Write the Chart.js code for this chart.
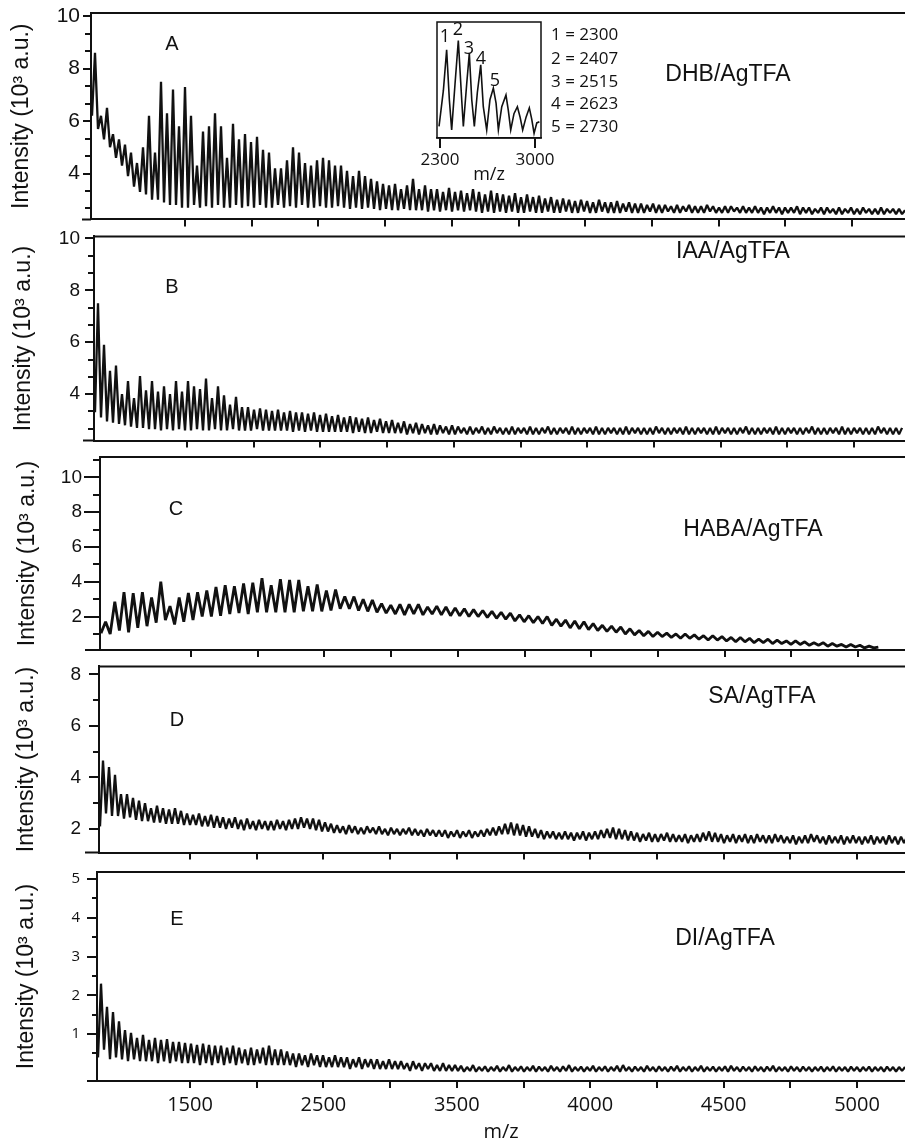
<!DOCTYPE html>
<html>
<head>
<meta charset="utf-8">
<script src="https://cdn.jsdelivr.net/npm/chart.js@4.4.1/dist/chart.umd.min.js"></script>
<style>
  body { margin: 0; background: #fff; }
  #page { position: relative; width: 905px; height: 1142px; overflow: hidden; background: #fff; }
  #page canvas { position: absolute; }
  .lbl { position: absolute; transform: translate(-50%, -50%); font-family: "Liberation Sans", Arial, sans-serif; color: #111; white-space: nowrap; line-height: 1; }
  .leg { position: absolute; transform: translate(0, -50%); font-family: "Open Sans", sans-serif; font-size: 17px; color: #111; white-space: nowrap; line-height: 1; }
  .pk { position: absolute; transform: translate(-50%, -50%); font-family: "Open Sans", sans-serif; font-size: 18px; color: #111; line-height: 1; }
</style>
</head>
<body>
<div id="page"></div>
<script>
// x axis: one unit = one labelled tick step (labels as printed on the figure)
const xTickLabels = ['1500', '2500', '3500', '4000', '4500', '5000'];
const xTickSpots = [0, 0.5, 1, 1.5, 2, 2.5, 3, 3.5, 4, 4.5, 5];
const yTitle = 'Intensity (10\u00B3 a.u.)';

// spectra, 10^3 a.u., alternating valley / peak along the trace
const intensityA = [
  6.2, 8.6, 5.7, 6.2, 5.3, 6.5, 5.0, 5.5, 4.6, 5.3, 4.3, 5.1, 3.9, 4.8, 3.5, 4.4, 3.3, 5.0, 3.2, 6.2,
  3.0, 4.8, 3.0, 7.5, 2.9, 6.3, 2.8, 7.2, 2.8, 5.8, 2.7, 7.3, 2.7, 6.2, 2.8, 4.3, 2.7, 5.6, 2.75, 5.8,
  2.7, 6.3, 2.8, 5.8, 2.7, 4.6, 2.7, 5.9, 2.8, 5.3, 2.7, 5.5, 2.75, 5.2, 2.7, 5.4, 2.8, 4.9, 2.7, 4.8,
  2.7, 4.2, 2.8, 4.2, 2.7, 4.5, 2.75, 5.0, 2.7, 4.8, 2.8, 4.4, 2.7, 4.3, 2.7, 4.5, 2.75, 4.6, 2.7, 4.5,
  2.7, 4.3, 2.75, 4.3, 2.7, 4.1, 2.65, 3.9, 2.7, 4.1, 2.65, 3.9, 2.7, 3.8, 2.65, 3.7, 2.6, 3.6, 2.65, 3.55,
  2.6, 3.6, 2.6, 3.4, 2.65, 3.55, 2.6, 3.8, 2.6, 3.4, 2.6, 3.55, 2.55, 3.4, 2.6, 3.4, 2.55, 3.3, 2.6, 3.45,
  2.55, 3.3, 2.6, 3.35, 2.55, 3.25, 2.6, 3.4, 2.55, 3.3, 2.5, 3.2, 2.55, 3.35, 2.5, 3.25, 2.55, 3.2, 2.5, 3.15,
  2.55, 3.25, 2.5, 3.1, 2.5, 3.2, 2.55, 3.1, 2.5, 3.15, 2.5, 3.05, 2.55, 3.1, 2.5, 3.0, 2.5, 3.05, 2.55, 3.0,
  2.5, 2.95, 2.5, 3.0, 2.55, 2.95, 2.5, 2.9, 2.5, 3.0, 2.55, 2.9, 2.5, 2.9, 2.5, 2.95, 2.5, 2.85, 2.55, 2.9,
  2.5, 2.85, 2.5, 2.85, 2.5, 2.8, 2.55, 2.85, 2.5, 2.8, 2.5, 2.8, 2.55, 2.75, 2.5, 2.8, 2.5, 2.75, 2.55, 2.8,
  2.5, 2.75, 2.5, 2.75, 2.5, 2.8, 2.55, 2.75, 2.5, 2.7, 2.5, 2.75, 2.5, 2.75, 2.55, 2.7, 2.5, 2.75, 2.5, 2.7,
  2.5, 2.75, 2.5, 2.7, 2.45, 2.7, 2.5, 2.75, 2.5, 2.7, 2.45, 2.7, 2.5, 2.7, 2.5, 2.75, 2.45, 2.7, 2.5, 2.7,
  2.45, 2.65, 2.5, 2.7, 2.45, 2.7, 2.5, 2.65, 2.45, 2.7, 2.45, 2.65, 2.5, 2.7, 2.45, 2.65, 2.45, 2.7, 2.5, 2.65,
  2.45, 2.65, 2.45, 2.7, 2.45, 2.65, 2.5, 2.65, 2.45, 2.65, 2.45, 2.6
];
const intensityB = [
  3.3, 7.5, 3.1, 5.9, 2.95, 4.9, 2.9, 5.1, 2.85, 4.0, 2.8, 4.5, 2.75, 3.85, 2.7, 4.7, 2.7, 4.15, 2.65, 4.5,
  2.65, 4.1, 2.6, 4.3, 2.65, 4.0, 2.6, 4.5, 2.65, 4.1, 2.6, 4.5, 2.6, 4.3, 2.65, 4.2, 2.6, 4.6, 2.6, 3.85,
  2.65, 4.3, 2.6, 3.95, 2.6, 3.6, 2.65, 3.9, 2.6, 3.5, 2.6, 3.5, 2.6, 3.4, 2.65, 3.45, 2.6, 3.4, 2.6, 3.35,
  2.6, 3.4, 2.6, 3.3, 2.6, 3.35, 2.55, 3.3, 2.6, 3.3, 2.55, 3.25, 2.6, 3.3, 2.55, 3.2, 2.55, 3.25, 2.55, 3.15,
  2.55, 3.2, 2.55, 3.1, 2.55, 3.15, 2.5, 3.1, 2.55, 3.05, 2.5, 3.1, 2.5, 3.0, 2.55, 3.05, 2.5, 2.95, 2.5, 3.0,
  2.5, 2.9, 2.5, 2.95, 2.45, 2.85, 2.5, 2.9, 2.45, 2.85, 2.5, 2.8, 2.45, 2.85, 2.45, 2.8, 2.5, 2.75, 2.45, 2.8,
  2.45, 2.75, 2.5, 2.7, 2.45, 2.75, 2.45, 2.7, 2.5, 2.75, 2.45, 2.7, 2.45, 2.75, 2.5, 2.7, 2.45, 2.7, 2.45, 2.75,
  2.45, 2.7, 2.5, 2.7, 2.45, 2.75, 2.45, 2.7, 2.45, 2.7, 2.5, 2.75, 2.45, 2.7, 2.45, 2.7, 2.5, 2.7, 2.45, 2.75,
  2.45, 2.7, 2.45, 2.7, 2.5, 2.7, 2.45, 2.75, 2.45, 2.7, 2.45, 2.7, 2.5, 2.7, 2.45, 2.7, 2.45, 2.75, 2.45, 2.7,
  2.5, 2.7, 2.45, 2.7, 2.45, 2.7, 2.45, 2.75, 2.5, 2.7, 2.45, 2.7, 2.45, 2.7, 2.5, 2.7, 2.45, 2.75, 2.45, 2.7,
  2.45, 2.7, 2.5, 2.7, 2.45, 2.7, 2.45, 2.75, 2.45, 2.7, 2.5, 2.7, 2.45, 2.7, 2.45, 2.7, 2.5, 2.75, 2.45, 2.7,
  2.45, 2.7, 2.45, 2.7, 2.5, 2.7, 2.45, 2.75, 2.45, 2.7, 2.45, 2.7, 2.5, 2.7, 2.45, 2.7, 2.45, 2.7, 2.5, 2.75,
  2.45, 2.7, 2.45, 2.7, 2.45, 2.7, 2.5, 2.7, 2.45, 2.75, 2.45, 2.7, 2.45, 2.7, 2.5, 2.7, 2.45, 2.7, 2.45, 2.7,
  2.45, 2.75, 2.5, 2.7, 2.45, 2.7, 2.45, 2.7, 2.45, 2.7
];
const intensityC = [
  1.05, 1.7, 1.0, 2.85, 1.2, 3.4, 1.1, 3.35, 1.35, 3.4, 1.45, 3.1, 1.65, 4.0, 1.8, 2.6, 1.55, 3.1, 1.7, 3.35,
  1.8, 3.4, 2.0, 3.5, 2.0, 3.7, 2.05, 3.8, 2.15, 3.75, 2.2, 3.9, 2.15, 3.95, 2.25, 4.2, 2.25, 3.8, 2.25, 4.15,
  2.25, 4.1, 2.25, 4.1, 2.3, 3.75, 2.3, 3.85, 2.3, 3.5, 2.35, 3.55, 2.45, 3.15, 2.45, 3.15, 2.35, 3.0, 2.3, 2.95,
  2.25, 2.75, 2.2, 2.65, 2.15, 2.7, 2.1, 2.7, 2.15, 2.7, 2.1, 2.55, 2.15, 2.6, 2.1, 2.55, 2.05, 2.5, 2.05, 2.45,
  2.0, 2.4, 2.0, 2.35, 1.95, 2.3, 1.9, 2.25, 1.85, 2.2, 1.75, 2.1, 1.7, 2.05, 1.65, 2.0, 1.6, 2.0, 1.5, 1.85,
  1.45, 1.8, 1.35, 1.75, 1.3, 1.7, 1.25, 1.6, 1.2, 1.5, 1.15, 1.45, 1.1, 1.4, 1.0, 1.3, 0.95, 1.2, 0.9, 1.15,
  0.85, 1.1, 0.85, 1.05, 0.8, 1.0, 0.75, 1.0, 0.75, 0.95, 0.7, 0.9, 0.65, 0.9, 0.65, 0.85, 0.6, 0.8, 0.55, 0.8,
  0.55, 0.75, 0.5, 0.7, 0.5, 0.7, 0.45, 0.65, 0.45, 0.6, 0.4, 0.6, 0.4, 0.55, 0.35, 0.5, 0.35, 0.5, 0.3, 0.45,
  0.3, 0.4, 0.25, 0.4, 0.25, 0.35, 0.2, 0.3, 0.2, 0.25
];
const intensityD = [
  2.1, 4.65, 2.6, 4.4, 2.5, 4.1, 2.5, 3.35, 2.4, 3.35, 2.45, 3.2, 2.35, 3.1, 2.3, 3.0, 2.3, 2.8, 2.25, 2.9,
  2.25, 2.8, 2.2, 2.75, 2.2, 2.8, 2.2, 2.7, 2.15, 2.6, 2.15, 2.55, 2.15, 2.6, 2.1, 2.5, 2.1, 2.55, 2.05, 2.5,
  2.05, 2.45, 2.0, 2.4, 2.05, 2.45, 2.0, 2.35, 1.95, 2.4, 2.0, 2.3, 1.95, 2.35, 2.0, 2.3, 1.95, 2.3, 1.95, 2.35,
  2.0, 2.3, 1.95, 2.35, 2.0, 2.4, 2.0, 2.45, 2.05, 2.4, 2.0, 2.4, 1.95, 2.35, 1.9, 2.25, 1.9, 2.2, 1.85, 2.15,
  1.85, 2.1, 1.8, 2.15, 1.85, 2.1, 1.8, 2.05, 1.8, 2.1, 1.85, 2.05, 1.8, 2.1, 1.8, 2.0, 1.75, 2.05, 1.8, 2.0,
  1.75, 2.0, 1.8, 2.05, 1.75, 2.0, 1.75, 1.95, 1.7, 2.0, 1.75, 1.95, 1.7, 1.95, 1.7, 1.95, 1.65, 1.9, 1.7, 1.95,
  1.65, 1.9, 1.7, 1.95, 1.65, 1.9, 1.7, 1.95, 1.7, 2.0, 1.75, 2.05, 1.75, 2.1, 1.8, 2.2, 1.8, 2.25, 1.75, 2.2,
  1.75, 2.15, 1.7, 2.1, 1.7, 2.0, 1.65, 1.95, 1.6, 1.9, 1.65, 1.9, 1.6, 1.85, 1.6, 1.9, 1.6, 1.85, 1.55, 1.85,
  1.6, 1.9, 1.55, 1.85, 1.6, 1.9, 1.6, 1.95, 1.65, 2.0, 1.65, 2.05, 1.6, 2.0, 1.6, 1.95, 1.55, 1.9, 1.55, 1.85,
  1.5, 1.8, 1.55, 1.85, 1.5, 1.8, 1.5, 1.8, 1.55, 1.85, 1.5, 1.8, 1.5, 1.75, 1.5, 1.8, 1.45, 1.75, 1.5, 1.8,
  1.5, 1.85, 1.55, 1.9, 1.5, 1.85, 1.5, 1.8, 1.45, 1.75, 1.5, 1.8, 1.45, 1.75, 1.5, 1.8, 1.45, 1.75, 1.45, 1.8,
  1.5, 1.75, 1.45, 1.75, 1.45, 1.8, 1.5, 1.75, 1.45, 1.7, 1.45, 1.75, 1.4, 1.7, 1.45, 1.75, 1.45, 1.8, 1.5, 1.75,
  1.45, 1.7, 1.4, 1.75, 1.45, 1.7, 1.45, 1.75, 1.4, 1.7, 1.45, 1.75, 1.45, 1.7, 1.4, 1.7, 1.45, 1.75, 1.4, 1.7,
  1.45, 1.7, 1.4, 1.75, 1.45, 1.7, 1.4, 1.7, 1.45, 1.7
];
const intensityE = [
  0.4, 2.3, 0.6, 1.7, 0.35, 1.57, 0.4, 1.33, 0.35, 1.1, 0.3, 1.03, 0.35, 0.9, 0.3, 0.98, 0.3, 0.85, 0.3, 0.9,
  0.25, 0.85, 0.3, 0.87, 0.25, 0.8, 0.3, 0.8, 0.25, 0.77, 0.25, 0.75, 0.25, 0.72, 0.2, 0.75, 0.25, 0.72, 0.2, 0.7,
  0.25, 0.7, 0.2, 0.65, 0.25, 0.7, 0.2, 0.65, 0.25, 0.6, 0.2, 0.65, 0.2, 0.6, 0.25, 0.65, 0.2, 0.7, 0.2, 0.6,
  0.2, 0.6, 0.2, 0.55, 0.2, 0.5, 0.15, 0.5, 0.2, 0.45, 0.15, 0.5, 0.2, 0.45, 0.15, 0.45, 0.15, 0.4, 0.15, 0.45,
  0.15, 0.4, 0.15, 0.4, 0.1, 0.35, 0.15, 0.4, 0.1, 0.35, 0.15, 0.35, 0.1, 0.35, 0.1, 0.3, 0.1, 0.35, 0.1, 0.3,
  0.1, 0.3, 0.1, 0.25, 0.05, 0.3, 0.1, 0.25, 0.05, 0.25, 0.1, 0.25, 0.05, 0.2, 0.05, 0.25, 0.05, 0.2, 0.05, 0.2,
  0.05, 0.18, 0.03, 0.15, 0.05, 0.2, 0.03, 0.15, 0.05, 0.17, 0.03, 0.15, 0.05, 0.18, 0.03, 0.15, 0.05, 0.2, 0.03, 0.15,
  0.05, 0.17, 0.03, 0.15, 0.05, 0.18, 0.03, 0.16, 0.05, 0.15, 0.03, 0.18, 0.05, 0.15, 0.03, 0.17, 0.05, 0.2, 0.03, 0.15,
  0.05, 0.16, 0.03, 0.15, 0.05, 0.18, 0.03, 0.15, 0.05, 0.17, 0.03, 0.15, 0.05, 0.18, 0.03, 0.2, 0.05, 0.15, 0.03, 0.16,
  0.05, 0.15, 0.03, 0.18, 0.05, 0.15, 0.03, 0.17, 0.05, 0.15, 0.03, 0.16, 0.05, 0.18, 0.03, 0.15, 0.05, 0.17, 0.03, 0.15,
  0.05, 0.18, 0.03, 0.15, 0.05, 0.16, 0.03, 0.15, 0.05, 0.17, 0.03, 0.18, 0.05, 0.15, 0.03, 0.16, 0.05, 0.15, 0.03, 0.17,
  0.05, 0.15, 0.03, 0.16, 0.05, 0.18, 0.03, 0.15, 0.05, 0.15, 0.03, 0.17, 0.05, 0.15, 0.03, 0.16, 0.05, 0.15, 0.03, 0.15,
  0.05, 0.16, 0.03, 0.15, 0.05, 0.17, 0.03, 0.15, 0.05, 0.15, 0.03, 0.16, 0.05, 0.15, 0.03, 0.15, 0.05, 0.16, 0.03, 0.15,
  0.05, 0.15, 0.03, 0.16, 0.05, 0.15, 0.03, 0.15, 0.05, 0.15
];

// inset (DHB/AgTFA, 2300-3000)
const insetMz = [2293, 2325, 2349, 2369, 2386, 2411, 2435, 2460, 2472, 2497, 2516, 2534, 2553, 2575, 2600, 2619, 2644, 2668,
  2693, 2713, 2730, 2755, 2786, 2803, 2821, 2845, 2870, 2890, 2909, 2934, 2958, 2976, 2993, 3013, 3032];
const insetIntensity = [10, 41, 76, 33, 7, 47, 84, 33, 10, 47, 73, 33, 10, 39, 63, 27, 7, 33,
  43, 30, 7, 27, 37, 24, 7, 21, 27, 18, 7, 18, 26, 16, 4, 13, 14];
const insetTicks = [2300, 3000];
const peakLegend = ['1 = 2300', '2 = 2407', '3 = 2515', '4 = 2623', '5 = 2730'];

const page = document.getElementById('page');

const panelDecor = {
  id: 'panelDecor',
  afterDraw(chart, args, opts) {
    const { ctx, chartArea: a, scales } = chart;
    ctx.save();
    ctx.strokeStyle = '#111';
    ctx.lineWidth = opts.width || 2;
    ctx.beginPath();
    if (opts.rect) {
      ctx.rect(a.left, a.top, a.right - a.left, a.bottom - a.top);
    }
    if (opts.top) {
      ctx.moveTo(a.left - 1, a.top);
      ctx.lineTo(a.right, a.top);
    }
    if (opts.ext) {
      ctx.moveTo(a.left - opts.ext, a.bottom);
      ctx.lineTo(a.left, a.bottom);
    }
    (opts.minor || []).forEach((v) => {
      const y = Math.round(scales.y.getPixelForValue(v));
      ctx.moveTo(a.left - opts.minorLen, y);
      ctx.lineTo(a.left, y);
    });
    ctx.stroke();
    ctx.restore();
  },
};
Chart.register(panelDecor);

function addCanvas(left, top, width, height) {
  const c = document.createElement('canvas');
  c.width = width;
  c.height = height;
  c.style.left = left + 'px';
  c.style.top = top + 'px';
  page.appendChild(c);
  return c;
}

function drawPanel(p) {
  const padTop = 16;
  const axisH = p.xLabels ? 1142 - p.bottom : 14;
  const canvas = addCanvas(0, p.top - padTop, 905, p.bottom - p.top + padTop + axisH);
  const points = p.values.map((v, i) => ({ x: p.xStart + i * p.xStep, y: v }));

  new Chart(canvas, {
    type: 'line',
    data: {
      datasets: [{
        data: points,
        borderColor: '#111',
        borderWidth: p.lineWidth || 2.3,
        borderJoinStyle: 'bevel',
        pointRadius: 0,
      }],
    },
    options: {
      responsive: false,
      animation: false,
      events: [],
      layout: { padding: { top: padTop, left: 0, right: 0, bottom: 0 } },
      plugins: {
        legend: { display: false },
        tooltip: { enabled: false },
        panelDecor: { top: true, ext: p.ext, minor: p.yMinor, minorLen: p.minorLen },
      },
      scales: {
        x: {
          type: 'linear',
          min: (p.left - p.t0) / 133.4,
          max: (905 - p.t0) / 133.4,
          afterBuildTicks: (s) => { s.ticks = xTickSpots.map((v) => ({ value: v })); },
          afterFit: (s) => { s.height = axisH; },
          grid: { drawOnChartArea: false, drawTicks: true, tickLength: 7, color: '#111', lineWidth: 2 },
          border: { display: true, color: '#111', width: 2 },
          ticks: {
            display: !!p.xLabels,
            autoSkip: false,
            maxRotation: 0,
            padding: 5,
            color: '#111',
            font: { family: 'Open Sans', size: 20 },
            callback: (v) => (Number.isInteger(v) ? xTickLabels[v] : ''),
          },
          title: {
            display: !!p.xLabels,
            text: 'm/z',
            color: '#111',
            font: { family: 'Open Sans', size: 20, lineHeight: 1 },
            padding: { top: 0, bottom: 0 },
          },
        },
        y: {
          type: 'linear',
          min: p.yMin,
          max: p.yMax,
          afterBuildTicks: (s) => { s.ticks = p.yMajor.map((v) => ({ value: v })); },
          afterFit: (s) => { s.width = p.left; },
          grid: { drawOnChartArea: false, drawTicks: true, tickLength: p.tickLen, color: '#111', lineWidth: 2 },
          border: { display: true, color: '#111', width: 2 },
          ticks: {
            padding: p.tickPad,
            color: '#111',
            font: { family: p.tickFamily || 'Liberation Sans', size: p.tickFont },
            callback: (v) => String(v),
          },
          title: {
            display: true,
            text: yTitle,
            color: '#111',
            font: { family: 'Liberation Sans', size: 23, lineHeight: 1 },
            padding: { top: p.titleX - 11.5, bottom: 0 },
          },
        },
      },
    },
  });
}

const thirds = [2.667, 3.333, 4.667, 5.333, 6.667, 7.333, 8.667, 9.333];
const panels = [
  { values: intensityA, xStart: -0.6972, xStep: 0.02249, top: 13, bottom: 221, left: 91, t0: 185,
    yMin: 2.25, yMax: 10.12, yMajor: [4, 6, 8, 10], yMinor: thirds, tickFont: 21, tickLen: 8, tickPad: 3, minorLen: 6, titleX: 22, ext: 9 },
  { values: intensityB, xStart: -0.6897, xStep: 0.02249, top: 236, bottom: 443, left: 94, t0: 187,
    yMin: 2.21, yMax: 10.08, yMajor: [4, 6, 8, 10], yMinor: thirds, tickFont: 19, tickLen: 9, tickPad: 5, minorLen: 6, titleX: 24, ext: 11 },
  { values: intensityC, xStart: -0.6747, xStep: 0.03448, top: 457, bottom: 650, left: 100, t0: 191, lineWidth: 2.8,
    yMin: 0.08, yMax: 11.17, yMajor: [2, 4, 6, 8, 10], yMinor: [1, 3, 5, 7, 9, 11], tickFont: 19, tickLen: 16, tickPad: 2, minorLen: 7, titleX: 28, ext: 15 },
  { values: intensityD, xStart: -0.6747, xStep: 0.02249, top: 663, bottom: 858, left: 99, t0: 190,
    yMin: 1.08, yMax: 8.31, yMajor: [2, 4, 6, 8], yMinor: [3, 5, 7], tickFont: 19, tickLen: 10, tickPad: 8, minorLen: 6, titleX: 27, ext: 14 },
  { values: intensityE, xStart: -0.6897, xStep: 0.02249, top: 872, bottom: 1081, left: 97, t0: 190, xLabels: true,
    yMin: -0.21, yMax: 5.18, yMajor: [1, 2, 3, 4, 5], yMinor: [0.5, 1.5, 2.5, 3.5, 4.5], tickFamily: 'Open Sans', tickFont: 15, tickLen: 10, tickPad: 7, minorLen: 5, titleX: 27, ext: 10 },
];
panels.forEach(drawPanel);

// inset
const insetCanvas = addCanvas(400, 0, 180, 185);
new Chart(insetCanvas, {
  type: 'line',
  data: {
    datasets: [{
      data: insetMz.map((m, i) => ({ x: m, y: insetIntensity[i] })),
      borderColor: '#111',
      borderWidth: 1.6,
      pointRadius: 0,
    }],
  },
  options: {
    responsive: false,
    animation: false,
    events: [],
    layout: { padding: { top: 22, left: 37, right: 39, bottom: 0 } },
    plugins: {
      legend: { display: false },
      tooltip: { enabled: false },
      panelDecor: { rect: true, width: 1.5 },
    },
    scales: {
      x: {
        type: 'linear',
        min: 2278,
        max: 3044,
        afterBuildTicks: (s) => { s.ticks = insetTicks.map((v) => ({ value: v })); },
        afterFit: (s) => { s.height = 47; },
        grid: { drawOnChartArea: false, drawTicks: true, tickLength: 10, color: '#111', lineWidth: 2 },
        border: { display: true, color: '#111', width: 1.5 },
        ticks: { autoSkip: false, maxRotation: 0, padding: 2, color: '#111', font: { family: 'Open Sans', size: 17 }, callback: (v) => String(v) },
        title: { display: true, text: 'm/z', color: '#111', font: { family: 'Open Sans', size: 18, lineHeight: 1 }, padding: { top: 0, bottom: 1 } },
      },
      y: { display: false, min: 0, max: 100 },
    },
  },
});

// text annotations
function addText(cls, text, x, y, size) {
  const d = document.createElement('div');
  d.className = cls;
  d.textContent = text;
  d.style.left = x + 'px';
  d.style.top = y + 'px';
  if (size) d.style.fontSize = size + 'px';
  page.appendChild(d);
}
const panelLetters = ['A', 'B', 'C', 'D', 'E'];
const letterPos = [[172, 43], [172, 286], [176, 508], [177, 719], [177, 918]];
panelLetters.forEach((t, i) => addText('lbl', t, letterPos[i][0], letterPos[i][1], 20));

const matrixNames = ['DHB/AgTFA', 'IAA/AgTFA', 'HABA/AgTFA', 'SA/AgTFA', 'DI/AgTFA'];
const matrixPos = [[728, 73], [733, 250], [753, 528], [762, 695], [725, 937]];
matrixNames.forEach((t, i) => addText('lbl', t, matrixPos[i][0], matrixPos[i][1], 23));

const legendY = [33, 57, 80, 102, 125];
peakLegend.forEach((t, i) => addText('leg', t, 551, legendY[i]));
const peakNumPos = [[445, 35], [458, 28], [469, 47], [481, 57], [495, 79]];
peakNumPos.forEach((p, i) => addText('pk', String(i + 1), p[0], p[1]));
</script>
</body>
</html>
